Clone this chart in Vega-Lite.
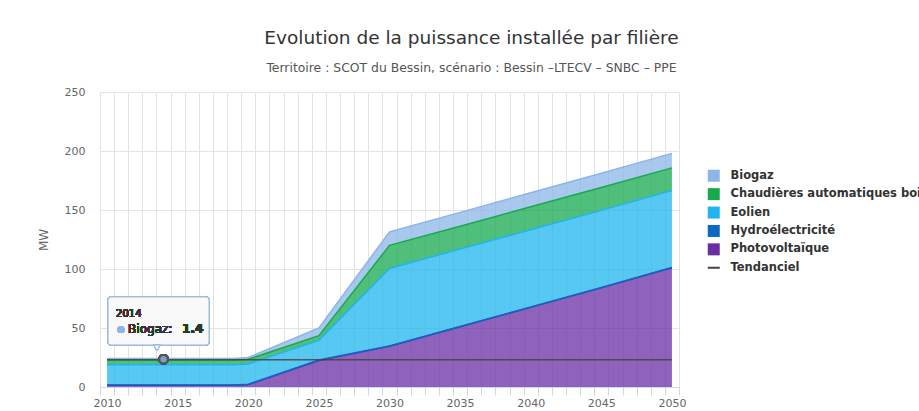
{
  "$schema": "https://vega.github.io/schema/vega-lite/v6.json",
  "autosize": "none",
  "width": 579,
  "height": 295,
  "padding": {"left": 100, "top": 92, "right": 240, "bottom": 24},
  "background": "white",
  "config": {
    "view": {"stroke": null},
    "font": "DejaVu Sans"
  },
  "title": {
    "text": "Evolution de la puissance installée par filière",
    "subtitle": "Territoire : SCOT du Bessin, scénario : Bessin –LTECV – SNBC – PPE",
    "anchor": "middle",
    "dx": 82,
    "offset": 12,
    "font": "DejaVu Sans",
    "fontSize": 18.5,
    "fontWeight": "normal",
    "color": "#333333",
    "subtitleFont": "DejaVu Sans",
    "subtitleFontSize": 12.4,
    "subtitleColor": "#555555",
    "subtitlePadding": 14
  },
  "data": {
    "values": [
      {"year": 2010, "filiere": "Photovoltaïque", "value": 1.5},
      {"year": 2010, "filiere": "Hydroélectricité", "value": 0.3},
      {"year": 2010, "filiere": "Eolien", "value": 17.0},
      {"year": 2010, "filiere": "Chaudières automatiques bois", "value": 4.0},
      {"year": 2010, "filiere": "Biogaz", "value": 1.4},
      {"year": 2010, "filiere": "Tendanciel", "value": 23},
      {"year": 2014, "filiere": "Photovoltaïque", "value": 1.5},
      {"year": 2014, "filiere": "Hydroélectricité", "value": 0.3},
      {"year": 2014, "filiere": "Eolien", "value": 17.0},
      {"year": 2014, "filiere": "Chaudières automatiques bois", "value": 4.0},
      {"year": 2014, "filiere": "Biogaz", "value": 1.4},
      {"year": 2014, "filiere": "Tendanciel", "value": 23},
      {"year": 2015, "filiere": "Photovoltaïque", "value": 1.5},
      {"year": 2015, "filiere": "Hydroélectricité", "value": 0.3},
      {"year": 2015, "filiere": "Eolien", "value": 17.0},
      {"year": 2015, "filiere": "Chaudières automatiques bois", "value": 4.0},
      {"year": 2015, "filiere": "Biogaz", "value": 1.4},
      {"year": 2015, "filiere": "Tendanciel", "value": 23},
      {"year": 2019, "filiere": "Photovoltaïque", "value": 1.5},
      {"year": 2019, "filiere": "Hydroélectricité", "value": 0.3},
      {"year": 2019, "filiere": "Eolien", "value": 17.0},
      {"year": 2019, "filiere": "Chaudières automatiques bois", "value": 4.0},
      {"year": 2019, "filiere": "Biogaz", "value": 1.4},
      {"year": 2019, "filiere": "Tendanciel", "value": 23},
      {"year": 2020, "filiere": "Photovoltaïque", "value": 2.0},
      {"year": 2020, "filiere": "Hydroélectricité", "value": 0.3},
      {"year": 2020, "filiere": "Eolien", "value": 17.2},
      {"year": 2020, "filiere": "Chaudières automatiques bois", "value": 4.0},
      {"year": 2020, "filiere": "Biogaz", "value": 1.5},
      {"year": 2020, "filiere": "Tendanciel", "value": 23},
      {"year": 2025, "filiere": "Photovoltaïque", "value": 22.5},
      {"year": 2025, "filiere": "Hydroélectricité", "value": 0.3},
      {"year": 2025, "filiere": "Eolien", "value": 16.7},
      {"year": 2025, "filiere": "Chaudières automatiques bois", "value": 4.0},
      {"year": 2025, "filiere": "Biogaz", "value": 6.5},
      {"year": 2025, "filiere": "Tendanciel", "value": 23},
      {"year": 2030, "filiere": "Photovoltaïque", "value": 34.5},
      {"year": 2030, "filiere": "Hydroélectricité", "value": 0.3},
      {"year": 2030, "filiere": "Eolien", "value": 65.7},
      {"year": 2030, "filiere": "Chaudières automatiques bois", "value": 19.5},
      {"year": 2030, "filiere": "Biogaz", "value": 11.5},
      {"year": 2030, "filiere": "Tendanciel", "value": 23},
      {"year": 2035, "filiere": "Photovoltaïque", "value": 51.0},
      {"year": 2035, "filiere": "Hydroélectricité", "value": 0.3},
      {"year": 2035, "filiere": "Eolien", "value": 65.6},
      {"year": 2035, "filiere": "Chaudières automatiques bois", "value": 19.4},
      {"year": 2035, "filiere": "Biogaz", "value": 11.7},
      {"year": 2035, "filiere": "Tendanciel", "value": 23},
      {"year": 2040, "filiere": "Photovoltaïque", "value": 67.5},
      {"year": 2040, "filiere": "Hydroélectricité", "value": 0.3},
      {"year": 2040, "filiere": "Eolien", "value": 65.5},
      {"year": 2040, "filiere": "Chaudières automatiques bois", "value": 19.4},
      {"year": 2040, "filiere": "Biogaz", "value": 11.9},
      {"year": 2040, "filiere": "Tendanciel", "value": 23},
      {"year": 2045, "filiere": "Photovoltaïque", "value": 84.0},
      {"year": 2045, "filiere": "Hydroélectricité", "value": 0.3},
      {"year": 2045, "filiere": "Eolien", "value": 65.4},
      {"year": 2045, "filiere": "Chaudières automatiques bois", "value": 19.3},
      {"year": 2045, "filiere": "Biogaz", "value": 12.1},
      {"year": 2045, "filiere": "Tendanciel", "value": 23},
      {"year": 2050, "filiere": "Photovoltaïque", "value": 101.0},
      {"year": 2050, "filiere": "Hydroélectricité", "value": 0.3},
      {"year": 2050, "filiere": "Eolien", "value": 65.2},
      {"year": 2050, "filiere": "Chaudières automatiques bois", "value": 19.2},
      {"year": 2050, "filiere": "Biogaz", "value": 12.3},
      {"year": 2050, "filiere": "Tendanciel", "value": 23}
    ]
  },
  "layer": [
    {
      "transform": [{"filter": "datum.filiere !== 'Tendanciel'"}],
      "mark": {"type": "area", "fillOpacity": 0.75, "line": {"strokeWidth": 1.5}},
      "encoding": {
        "x": {
          "field": "year",
          "type": "quantitative",
          "scale": {"domain": [2009.5, 2050.5], "nice": false, "zero": false},
          "axis": {
            "title": null,
            "tickCount": 200,
            "values": [2009.5,2010,2010.5,2011,2011.5,2012,2012.5,2013,2013.5,2014,2014.5,2015,2015.5,2016,2016.5,2017,2017.5,2018,2018.5,2019,2019.5,2020,2020.5,2021,2021.5,2022,2022.5,2023,2023.5,2024,2024.5,2025,2025.5,2026,2026.5,2027,2027.5,2028,2028.5,2029,2029.5,2030,2030.5,2031,2031.5,2032,2032.5,2033,2033.5,2034,2034.5,2035,2035.5,2036,2036.5,2037,2037.5,2038,2038.5,2039,2039.5,2040,2040.5,2041,2041.5,2042,2042.5,2043,2043.5,2044,2044.5,2045,2045.5,2046,2046.5,2047,2047.5,2048,2048.5,2049,2049.5,2050,2050.5],
            "labelExpr": "datum.value % 5 === 0 ? format(datum.value, 'd') : ''",
            "labelOverlap": false,
            "labelFlush": false,
            "labelFont": "DejaVu Sans",
            "labelFontSize": 11,
            "labelColor": "#666666",
            "labelPadding": 2,
            "grid": true,
            "gridColor": "#e3e3e3",
            "gridOpacity": {"condition": {"test": "datum.value % 1 === 0", "value": 0}, "value": 1},
            "tickColor": "#ccd6eb",
            "tickSize": 8,
            "tickOpacity": {"condition": {"test": "datum.value % 1 === 0", "value": 0}, "value": 1},
            "domainColor": "#ccd6eb"
          }
        },
        "y": {
          "field": "value",
          "type": "quantitative",
          "stack": "zero",
          "scale": {"domain": [0, 250], "nice": false},
          "axis": {
            "title": "MW",
            "titleFont": "DejaVu Sans",
            "titleFontSize": 12,
            "titleFontWeight": "normal",
            "titleColor": "#666666",
            "titlePadding": 14,
            "values": [0, 50, 100, 150, 200, 250],
            "labelFont": "DejaVu Sans",
            "labelFontSize": 11,
            "labelColor": "#666666",
            "labelPadding": 15,
            "grid": true,
            "gridColor": "#e3e3e3",
            "domain": false,
            "ticks": false
          }
        },
        "color": {
          "field": "filiere",
          "type": "nominal",
          "scale": {
            "domain": ["Biogaz", "Chaudières automatiques bois", "Eolien", "Hydroélectricité", "Photovoltaïque", "Tendanciel"],
            "range": ["#8cb5e8", "#16a950", "#1fb5ee", "#0d68c2", "#6a2ea4", "#434348"]
          },
          "legend": {
            "title": null,
            "orient": "none",
            "legendX": 608,
            "legendY": 78,
            "symbolType": "square",
            "symbolSize": 144,
            "symbolOpacity": 1,
            "symbolStrokeWidth": 0,
            "labelFont": "DejaVu Sans",
            "labelFontSize": 11.5,
            "labelFontWeight": "bold",
            "labelColor": "#333333",
            "labelLimit": 0,
            "labelOffset": 11,
            "rowPadding": 5.4,
            "encode": {
              "symbols": {
                "update": {
                  "shape": {"signal": "datum.value === 'Tendanciel' ? 'stroke' : 'square'"},
                  "strokeWidth": {"signal": "datum.value === 'Tendanciel' ? 2 : 0"},
                  "stroke": {"signal": "datum.value === 'Tendanciel' ? '#434348' : null"}
                }
              }
            }
          }
        },
        "order": {"field": "filiere", "sort": "descending"}
      }
    },
    {
      "transform": [{"filter": "datum.filiere === 'Tendanciel'"}],
      "mark": {"type": "line", "strokeWidth": 1.5, "opacity": 0.85},
      "encoding": {
        "x": {"field": "year", "type": "quantitative"},
        "y": {"field": "value", "type": "quantitative"},
        "color": {"field": "filiere", "type": "nominal"}
      }
    },
    {
      "mark": {"type": "point", "shape": "circle", "filled": true, "size": 70, "fill": "#7f9fc4", "stroke": "#555555", "strokeWidth": 2, "opacity": 1},
      "encoding": {
        "x": {"datum": 2014, "type": "quantitative"},
        "y": {"datum": 23.6, "type": "quantitative"}
      }
    },
    {
      "mark": {"type": "rect", "fill": "#f9f9f9", "fillOpacity": 0.92, "stroke": "#9dbbe0", "strokeWidth": 1, "cornerRadius": 3},
      "encoding": {
        "x": {"datum": 2010.07, "type": "quantitative"},
        "x2": {"datum": 2017.22},
        "y": {"datum": 76.3, "type": "quantitative"},
        "y2": {"datum": 35.6}
      }
    },
    {
      "mark": {"type": "point", "shape": "triangle-down", "filled": true, "size": 40, "fill": "#f9f9f9", "stroke": "#9dbbe0", "strokeWidth": 1, "opacity": 1},
      "encoding": {
        "x": {"datum": 2013.54, "type": "quantitative"},
        "y": {"datum": 33.2, "type": "quantitative"}
      }
    },
    {
      "mark": {"type": "text", "text": "2014", "align": "left", "baseline": "middle", "fontSize": 10, "color": "#333333", "font": "DejaVu Sans"},
      "encoding": {
        "x": {"datum": 2010.64, "type": "quantitative"},
        "y": {"datum": 61.5, "type": "quantitative"}
      }
    },
    {
      "mark": {"type": "text", "text": "●", "align": "center", "baseline": "middle", "fontSize": 9, "color": "#8cb5e8", "font": "DejaVu Sans"},
      "encoding": {
        "x": {"datum": 2010.99, "type": "quantitative"},
        "y": {"datum": 49.0, "type": "quantitative"}
      }
    },
    {
      "mark": {"type": "text", "text": "Biogaz:", "align": "left", "baseline": "middle", "fontSize": 12, "color": "#333333", "font": "DejaVu Sans"},
      "encoding": {
        "x": {"datum": 2011.49, "type": "quantitative"},
        "y": {"datum": 49.0, "type": "quantitative"}
      }
    },
    {
      "mark": {"type": "text", "text": "1.4", "align": "left", "baseline": "middle", "fontSize": 12, "fontWeight": "bold", "color": "#333333", "font": "DejaVu Sans"},
      "encoding": {
        "x": {"datum": 2015.31, "type": "quantitative"},
        "y": {"datum": 49.0, "type": "quantitative"}
      }
    }
  ]
}
